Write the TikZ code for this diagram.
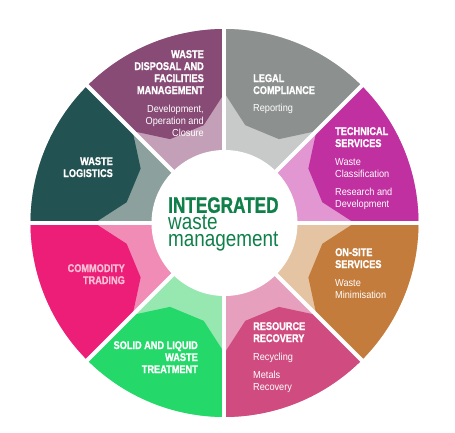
\documentclass[tikz,border=0pt]{standalone}
\usepackage{fontspec}
\setmainfont{Liberation Sans}
\newfontfamily\headfont[FakeStretch=0.82, BoldFeatures={FakeBold=1.2}]{Liberation Sans}
\newfontfamily\subfont[FakeStretch=0.9]{Liberation Sans}
\newfontfamily\bigfont[FakeStretch=0.77, BoldFeatures={FakeBold=1}]{Liberation Sans}
\newfontfamily\wastefont[FakeStretch=0.84]{Liberation Sans}
\usetikzlibrary{calc}
\definecolor{techdark}{HTML}{C030A0}
\definecolor{techlight}{HTML}{E296D2}
\definecolor{legaldark}{HTML}{8C918F}
\definecolor{legallight}{HTML}{C8CACA}
\definecolor{dispdark}{HTML}{874B76}
\definecolor{displight}{HTML}{C4A0B8}
\definecolor{logdark}{HTML}{235252}
\definecolor{loglight}{HTML}{8CA09E}
\definecolor{commdark}{HTML}{EC1E78}
\definecolor{commlight}{HTML}{F08CB6}
\definecolor{commtext}{HTML}{F8BED4}
\definecolor{soliddark}{HTML}{24D86A}
\definecolor{solidlight}{HTML}{96E8B0}
\definecolor{resdark}{HTML}{D04C80}
\definecolor{reslight}{HTML}{E6A0BE}
\definecolor{sitedark}{HTML}{C47C3C}
\definecolor{sitelight}{HTML}{E4C4A2}
\definecolor{iwmgreen}{HTML}{10804A}

\begin{document}
\begin{tikzpicture}[x=1pt,y=1pt,
    head/.style={font=\headfont\bfseries\fontsize{11.2}{12}\selectfont, text=white, inner sep=0pt},
    sub/.style={font=\subfont\fontsize{10.2}{12}\selectfont, text=white, inner sep=0pt}]

    \useasboundingbox (-224.5,-210) rectangle (230.5,223);
    \def\R{194}
    \def\r{73}

%the sectors: light ring and dark outer part
    \foreach \a/\lt/\dk in {0/techlight/techdark, 45/legallight/legaldark, 90/displight/dispdark, 135/loglight/logdark,
                            180/commlight/commdark, 225/solidlight/soliddark, 270/reslight/resdark, 315/sitelight/sitedark} {
      \fill[\lt] (0,0) -- (\a:\R) arc[start angle=\a, end angle=\a+45, radius=\R] -- cycle;
      \fill[\dk] (\a:130) -- ({\a+12}:100) -- ({\a+33}:100) -- ({\a+45}:130) -- ({\a+45}:\R)
                 arc[start angle=\a+45, end angle=\a, radius=\R] -- cycle;
    }
% white gaps and the middle
    \foreach \a in {0,45,...,315}
      \draw[white, line width=4pt] (0,0) -- (\a:200);
    \fill[white] (0,0) circle (\r);

% the texts
    \node[head, anchor=north east, align=right] (disposal) at (-20.5,173) {WASTE\\DISPOSAL AND\\FACILITIES\\MANAGEMENT};
    \node[sub, anchor=north east, align=right] (disposalsub) at (-20.5,118) {Development,\\Operation and\\Closure};

    \node[head, anchor=north west, align=left] (legal) at (28.5,149) {LEGAL\\COMPLIANCE};
    \node[sub, anchor=north west, align=left] (legalsub) at (28.5,119) {Reporting};

    \node[head, anchor=north west, align=left] (tech) at (110.5,96) {TECHNICAL\\SERVICES};
    \node[sub, anchor=north west, align=left] (techsub) at (110.5,65) {Waste\\Classification\\[6pt]Research and\\Development};

    \node[head, anchor=north east, align=right] (logistics) at (-111.5,66) {WASTE\\LOGISTICS};
    \node[head, anchor=north east, align=right, text=commtext] (commodity) at (-99.5,-41) {COMMODITY\\TRADING};
    \node[head, anchor=north east, align=right] (solid) at (-26.5,-118) {SOLID AND LIQUID\\WASTE\\TREATMENT};

    \node[head, anchor=north west, align=left] (resource) at (28.5,-99) {RESOURCE\\RECOVERY};
    \node[sub, anchor=north west, align=left] (resourcesub) at (28.5,-130) {Recycling\\[6pt]Metals\\Recovery};

    \node[head, anchor=north west, align=left] (onsite) at (110.5,-25) {ON-SITE\\SERVICES};
    \node[sub, anchor=north west, align=left] (onsitesub) at (110.5,-56) {Waste\\Minimisation};

% the centre
    \node[anchor=north west, align=left, inner sep=0pt, text=iwmgreen, font=\wastefont\fontsize{22.5}{17}\selectfont] (centre) at (-56.5,26)
      {{\bigfont\bfseries\fontsize{22.3}{17}\selectfont INTEGRATED}\\waste\\management};
\end{tikzpicture}
\end{document}
